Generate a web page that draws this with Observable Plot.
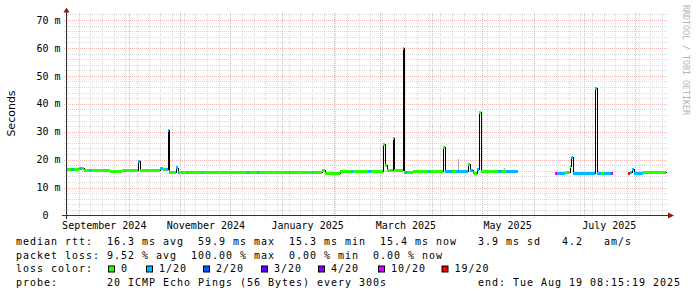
<!DOCTYPE html>
<html><head><meta charset="utf-8">
<script src="https://cdn.jsdelivr.net/npm/d3@7"></script>
<script src="https://cdn.jsdelivr.net/npm/@observablehq/plot@0.6"></script>
<style>
html,body{margin:0;padding:0;background:#fff;}
#chart svg{display:block;}
</style></head><body><div id="chart"></div>
<script>
// ---- time window ----
const startTime = "2024-08-24T08:15:19";
const endTime = "2025-08-19T08:15:19";

// ---- median rtt segments (start time, median ms, loss bucket index) ----
const segStart = [
 "2024-08-24T08:15","2024-08-27T08:00","2024-08-29T03:00","2024-09-01T03:00","2024-09-02T22:00",
 "2024-09-04T03:00","2024-09-07T03:00","2024-09-08T08:00","2024-09-17T22:00","2024-09-19T18:00",
 "2024-09-26T22:00","2024-10-06T20:00","2024-10-08T01:00","2024-10-19T18:00","2024-10-21T13:00",
 "2024-10-23T08:00","2024-10-24T06:00","2024-10-25T03:00","2024-10-29T15:00","2024-10-30T06:00",
 "2024-10-31T03:00","2024-11-04T22:00","2024-11-05T20:00","2024-11-13T22:00","2024-11-14T20:00",
 "2024-12-10T22:00","2024-12-12T03:00","2024-12-16T22:00","2024-12-18T03:00","2025-01-05T03:00",
 "2025-01-06T01:00","2025-01-18T22:00","2025-01-19T20:00","2025-01-24T22:00","2025-01-26T18:00",
 "2025-02-04T18:00","2025-02-11T08:00","2025-02-12T06:00","2025-02-21T13:00","2025-02-23T08:00",
 "2025-03-02T13:00","2025-03-03T18:00","2025-03-04T22:00","2025-03-08T06:00","2025-03-09T10:00",
 "2025-03-14T06:00","2025-03-15T03:00","2025-03-15T18:00","2025-03-16T22:00","2025-03-20T13:00",
 "2025-03-29T13:00","2025-03-30T18:00","2025-04-07T20:00","2025-04-09T01:00","2025-04-12T22:00",
 "2025-04-15T08:00","2025-04-22T20:00","2025-04-24T01:00","2025-04-25T13:00","2025-04-26T10:00",
 "2025-04-27T22:00","2025-04-29T10:00","2025-04-30T15:00","2025-05-10T13:00","2025-05-12T22:00",
 "2025-05-15T08:00","2025-05-22T13:00","2025-06-13T18:00","2025-06-14T22:00","2025-06-19T18:00",
 "2025-06-22T18:00","2025-06-23T15:00","2025-06-24T13:00","2025-07-07T18:00","2025-07-08T22:00",
 "2025-07-11T08:00","2025-07-13T03:00","2025-07-17T08:00","2025-07-18T13:00","2025-07-27T13:00",
 "2025-07-28T18:00","2025-07-29T22:00","2025-07-31T03:00","2025-08-05T13:00"
];
const segMs = [
 16.6,16.6,16.6,17.0,17.0,
 16.4,16.2,16.2,16.4,16.1,
 16.2,19.6,16.2,17.0,16.8,
 16.5,30.7,15.4,17.2,15.4,
 15.4,15.4,15.4,15.4,15.4,
 15.4,15.4,15.4,15.4,15.4,
 15.4,15.4,15.4,16.4,15.2,
 16.0,16.0,16.0,16.0,16.0,
 25.7,18.2,16.2,27.6,16.2,
 60.0,15.5,15.5,15.5,16.0,
 16.0,16.0,24.6,16.0,16.0,
 16.0,18.5,16.2,15.4,15.3,
 16.8,37.2,15.8,15.9,16.0,
 15.9,null,15.2,15.3,15.6,
 17.7,20.9,15.3,45.8,15.3,
 15.3,15.3,15.3,null,15.2,
 15.4,16.5,15.3,15.4
];
const segLoss = [
 0,1,0,1,0,
 0,1,0,0,0,
 0,1,0,1,0,
 1,1,0,1,1,
 0,1,0,1,0,
 1,0,1,0,1,
 0,1,0,0,0,
 0,1,0,1,0,
 0,0,0,0,0,
 1,0,1,0,0,
 1,0,0,1,0,
 1,0,1,1,0,
 1,0,0,1,0,
 1,0,5,1,0,
 0,1,1,1,1,
 0,1,5,0,6,
 1,1,1,0
];

// ---- smoke (spread) traces that stand out ----
const smokeTime = ["2025-04-16T13:00","2025-05-14T03:00"];
const smokeLow = [16.0, 16.0];
const smokeHigh = [20.4, 16.9];

// ---- loss legend ----
const lossLabels = ["0","1/20","2/20","3/20","4/20","10/20","19/20"];
const lossColors = ["#26ff00","#00b8ff","#0059ff","#5e00ff","#7e00ff","#dd00ff","#ff0000"];

// ---- axis ticks ----
const yTicks = [0,10,20,30,40,50,60,70];
const yTickLabels = ["0","10 m","20 m","30 m","40 m","50 m","60 m","70 m"];
const xLabelDates = ["2024-09-16T00:00","2024-11-16T00:00","2025-01-16T00:00","2025-03-16T00:00","2025-05-16T00:00","2025-07-16T00:00"];
const xLabels = ["September 2024","November 2024","January 2025","March 2025","May 2025","July 2025"];

// ---- texts ----
const yTitle = "Seconds";
const watermark = "RRDTOOL / TOBI OETIKER";
const statsLines = [
 "median rtt:  16.3 ms avg  59.9 ms max  15.3 ms min  15.4 ms now   3.9 ms sd   4.2   am/s",
 "packet loss: 9.52 % avg  100.00 % max  0.00 % min  0.00 % now",
 "loss color:",
 "probe:       20 ICMP Echo Pings (56 Bytes) every 300s"
];
const endLabel = "end: Tue Aug 19 08:15:19 2025";

// ---------------------------------------------------------------
const t = s => new Date(s);
const xStart = t(startTime), xEnd = t(endTime);

const segs = segStart.map((s, i) => ({
  x1: t(s), x2: t(i + 1 < segStart.length ? segStart[i + 1] : endTime),
  ms: segMs[i], color: lossColors[segLoss[i]]
}));
const linePts = segs.map(d => ({x: d.x1, y: d.ms}))
  .concat([{x: xEnd, y: segMs[segMs.length - 1]}]);
const smoke = smokeTime.map((s, i) => ({x: t(s), lo: smokeLow[i], hi: smokeHigh[i]}));

const minorY = d3.range(2, 73, 2).filter(v => v % 10 !== 0);
const majorY = d3.range(10, 71, 10);
const weeks = d3.timeWeek.range(xStart, xEnd);
const months = d3.timeMonth.range(xStart, xEnd);

const FONT = "DejaVu Sans Mono";
const minorCol = "#d9d9d9", majorCol = "#f3b3b3";

const svg = Plot.plot({
  width: 697, height: 297,
  marginLeft: 66, marginRight: 31, marginTop: 13, marginBottom: 81.5,
  x: {type: "time", domain: [xStart, xEnd], axis: null},
  y: {domain: [0, 72.5], axis: null},
  color: {type: "identity"},
  style: {background: "#fff", fontFamily: FONT, fontSize: "10px", color: "#000"},
  marks: [
    Plot.ruleY(minorY, {stroke: minorCol, strokeDasharray: "1,1", insetLeft: -2, insetRight: -2, shapeRendering: "crispEdges"}),
    Plot.ruleX(weeks, {stroke: minorCol, strokeDasharray: "1,1", insetBottom: -2, shapeRendering: "crispEdges"}),
    Plot.ruleY(majorY, {stroke: majorCol, strokeDasharray: "1,1", insetLeft: -2, insetRight: -2, shapeRendering: "crispEdges"}),
    Plot.ruleX(months, {stroke: majorCol, strokeDasharray: "1,1", insetBottom: -2, shapeRendering: "crispEdges"}),
    Plot.ruleX(smoke, {x: "x", y1: "lo", y2: "hi", stroke: "#a8a8a8", strokeWidth: 1, shapeRendering: "crispEdges"}),
    Plot.line(linePts, {x: "x", y: "y", curve: "step-after", stroke: "#000", strokeWidth: 1, shapeRendering: "crispEdges"}),
    Plot.ruleY(segs.filter(d => d.ms != null), {y: "ms", x1: "x1", x2: "x2", stroke: "color", strokeWidth: 3, shapeRendering: "crispEdges"}),
    Plot.text(yTicks.filter(v => v > 0), {frameAnchor: "left", y: v => v,
      text: v => yTickLabels[yTicks.indexOf(v)], textAnchor: "end", dx: -6,
      fontFamily: FONT, fontSize: 10, fill: "#000"}),
    Plot.text(yTicks.filter(v => v === 0), {frameAnchor: "left", y: v => v,
      text: v => yTickLabels[yTicks.indexOf(v)], textAnchor: "end", dx: -18,
      fontFamily: FONT, fontSize: 10, fill: "#000"}),
    Plot.text(xLabelDates.map(t), {x: d => d, frameAnchor: "bottom",
      text: (d, i) => xLabels[i], lineAnchor: "top", dy: 5.5,
      fontFamily: FONT, fontSize: 10, fill: "#000"})
  ]
});

const s = d3.select(svg);
// axes
s.append("line").attr("x1", 62).attr("x2", 668).attr("y1", 215.5).attr("y2", 215.5)
  .attr("stroke", "#333").attr("stroke-width", 1);
s.append("line").attr("x1", 66.5).attr("x2", 66.5).attr("y1", 219).attr("y2", 12)
  .attr("stroke", "#333").attr("stroke-width", 1);
s.append("path").attr("d", "M63.5,12.5L69.5,12.5L66.5,7.5Z").attr("fill", "#8b1a1a");
s.append("path").attr("d", "M668,212.5L668,218.5L674,215.5Z").attr("fill", "#8b1a1a");

// y title
s.append("text").attr("transform", "translate(15,113.5) rotate(-90)")
  .attr("text-anchor", "middle").attr("font-family", "DejaVu Sans").attr("font-size", 11)
  .attr("fill", "#000").text(yTitle);

// watermark
s.append("text").attr("transform", "translate(683,5) rotate(90)")
  .attr("text-anchor", "start")
  .attr("font-family", FONT).attr("font-size", 8.3).attr("fill", "#b4b4b4")
  .text(watermark);

// legend
const base = [245, 258.7, 272.3, 286];
const legendText = (x, y, str) => s.append("text").attr("x", x).attr("y", y)
  .attr("text-anchor", "start")
  .attr("xml:space", "preserve").style("white-space", "pre")
  .attr("font-family", FONT).attr("font-size", 10).attr("letter-spacing", "0.98px")
  .attr("fill", "#000").text(str);
statsLines.forEach((line, i) => legendText(16, base[i], line));
legendText(478, base[3], endLabel);

const sqX = [108, 146, 203, 261, 318, 378, 441.5];
lossLabels.forEach((lab, i) => {
  s.append("rect").attr("x", sqX[i] + 0.5).attr("y", 266).attr("width", 6).attr("height", 6)
    .attr("fill", lossColors[i]).attr("stroke", "#000").attr("stroke-width", 1);
  legendText(sqX[i] + 13, base[2], lab);
});

document.getElementById("chart").appendChild(svg);
</script>
</body></html>
